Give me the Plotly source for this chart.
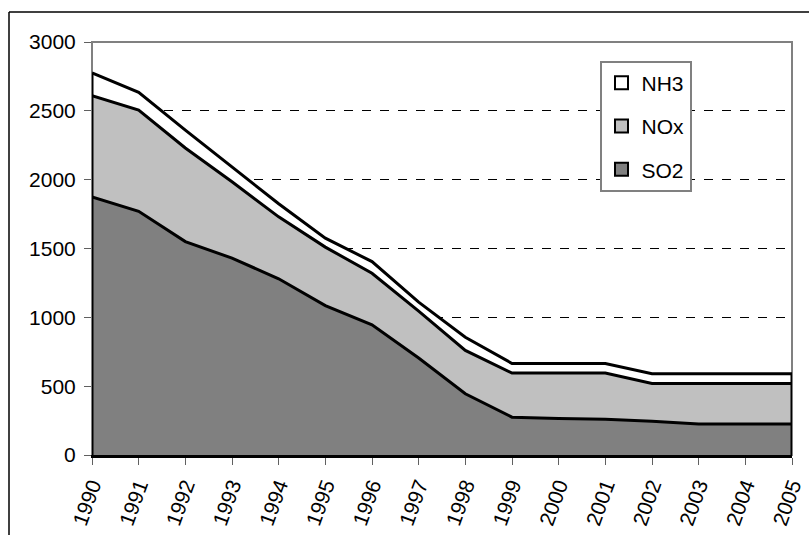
import plotly.graph_objects as go

years = list(range(1990, 2006))
so2 = [1875, 1770, 1550, 1430, 1280, 1085, 945, 705, 445, 275, 265, 260, 245, 225, 225, 225]
nox = [735, 735, 680, 555, 450, 425, 375, 340, 315, 320, 330, 335, 275, 295, 295, 295]
nh3 = [165, 130, 130, 105, 95, 65, 85, 65, 95, 70, 70, 70, 70, 70, 70, 70]

series = [("SO2", so2, "#808080"), ("NOx", nox, "#c0c0c0"), ("NH3", nh3, "#ffffff")]
total = [a + b + c for a, b, c in zip(so2, nox, nh3)]

FONT = "Liberation Sans, Arial, sans-serif"
FS = 21

fig = go.Figure()
for name, vals, color in series:
    fig.add_trace(go.Scatter(
        x=years, y=vals, name=name, mode="lines",
        stackgroup="emis", fillcolor=color,
        line=dict(color="black", width=3),
        showlegend=False,
    ))

# closing edges of the stacked block at the first and last year
for yr, top in ((years[0], total[0]), (years[-1], total[-1])):
    fig.add_trace(go.Scatter(
        x=[yr, yr], y=[0, top], mode="lines",
        line=dict(color="black", width=3), showlegend=False, hoverinfo="skip",
    ))

# legend keys: filled squares, topmost layer listed first
for rank, (name, vals, color) in enumerate(reversed(series)):
    fig.add_trace(go.Scatter(
        x=[None], y=[None], name=name, mode="markers",
        marker=dict(symbol="square", size=13, color=color,
                    line=dict(color="black", width=2)),
        legendgroup=name, legendrank=rank + 1, showlegend=True,
    ))

fig.update_layout(
    width=809, height=535,
    margin=dict(l=92, r=17, t=42, b=80, autoexpand=False),
    paper_bgcolor="white", plot_bgcolor="white",
    font=dict(family=FONT, size=FS, color="black"),
    legend=dict(
        x=0.725, y=0.955, xanchor="left", yanchor="top",
        traceorder="grouped", tracegroupgap=13,
        bgcolor="white", bordercolor="#808080", borderwidth=2,
        font=dict(family=FONT, size=FS),
        itemwidth=30,
    ),
    xaxis=dict(
        range=[1990, 2005], tickmode="array", tickvals=years,
        ticktext=[str(y) for y in years], tickangle=-70,
        ticks="outside", ticklen=7, tickcolor="#606060", tickwidth=1,
        showgrid=False, zeroline=False, automargin=False,
        showline=True, linecolor="black", linewidth=3,
        tickfont=dict(family=FONT, size=FS),
    ),
    yaxis=dict(
        range=[0, 3000], tickmode="linear", tick0=0, dtick=500,
        ticks="outside", ticklen=7, tickcolor="#606060", tickwidth=1,
        ticklabelstandoff=4, automargin=False,
        showgrid=True, gridcolor="black", griddash="dash", gridwidth=1,
        zeroline=False, showline=True, linecolor="#808080", linewidth=1,
        tickfont=dict(family=FONT, size=FS),
    ),
    shapes=[
        # plot area frame (top and right visible)
        dict(type="rect", xref="paper", yref="paper", x0=0, x1=1, y0=0, y1=1,
             line=dict(color="#808080", width=2), layer="below"),
        # outer chart frame: top and left edges
        dict(type="line", xref="paper", yref="paper",
             x0=-83 / 700, x1=(812 - 92) / 700, y0=1 + 30 / 413, y1=1 + 30 / 413,
             line=dict(color="black", width=1.5)),
        dict(type="line", xref="paper", yref="paper",
             x0=-83 / 700, x1=-83 / 700, y0=1 + 30 / 413, y1=-(540 - 455) / 413,
             line=dict(color="black", width=1.5)),
    ],
)

fig.write_html("out.html")
